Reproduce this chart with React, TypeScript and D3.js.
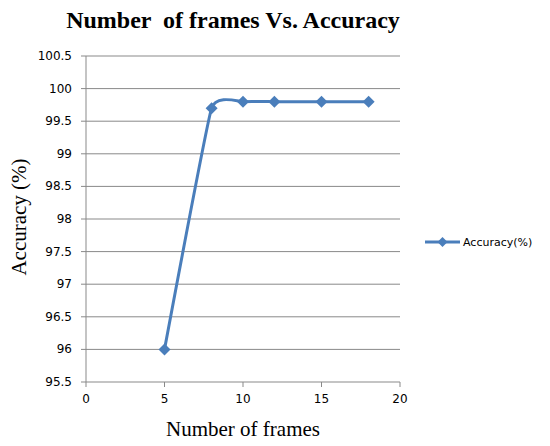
import React from "react";
import * as d3 from "d3";

const framesX = [5, 8, 10, 12, 15, 18];
const accuracyY = [96, 99.7, 99.8, 99.8, 99.8, 99.8];
const xTicks = [0, 5, 10, 15, 20];
const yTicks = [95.5, 96, 96.5, 97, 97.5, 98, 98.5, 99, 99.5, 100, 100.5];
const seriesName = "Accuracy(%)";
const titleText = "Number  of frames Vs. Accuracy";
const xTitle = "Number of frames";
const yTitle = "Accuracy (%)";

export default function App() {
  const W = 550, H = 446;
  const x = d3.scaleLinear().domain([0, 20]).range([86, 400]);
  const y = d3.scaleLinear().domain([95.5, 100.5]).range([382, 56]);
  const pts = framesX.map((v, i) => [x(v), y(accuracyY[i])] as [number, number]);
  const line = d3.line().curve(d3.curveCardinal.tension(0.65))(pts) || "";
  const blue = "#4a7ebb";
  const grid = "#898989";
  const sans = "Tahoma, 'DejaVu Sans', Verdana, sans-serif";
  const serif = "'Liberation Serif', 'Times New Roman', serif";
  const diamond = (cx: number, cy: number, r: number) =>
    `M${cx},${cy - r}L${cx + r},${cy}L${cx},${cy + r}L${cx - r},${cy}Z`;
  return (
    <svg width={W} height={H} style={{ position: "absolute", left: 0, top: 0, background: "#fff" }}>
      <rect width={W} height={H} fill="#fff" />
      <text x={233} y={28} textAnchor="middle" fontFamily={serif} fontWeight="bold" fontSize={24}
        style={{ whiteSpace: "pre" }} fill="#000">{titleText}</text>
      {yTicks.map((t) => (
        <g key={"y" + t}>
          {t !== 95.5 && <line x1={86} x2={400} y1={y(t)} y2={y(t)} stroke={grid} strokeWidth={1} />}
          <line x1={81} x2={86} y1={y(t)} y2={y(t)} stroke={grid} strokeWidth={1} />
          <text x={72} y={y(t) + 4} textAnchor="end" fontFamily={sans} fontSize={12} fill="#000">{t}</text>
        </g>
      ))}
      <line x1={86} x2={86} y1={56} y2={382} stroke={grid} strokeWidth={1} />
      <line x1={86} x2={400} y1={382} y2={382} stroke={grid} strokeWidth={1} />
      {xTicks.map((t) => (
        <g key={"x" + t}>
          <line x1={x(t)} x2={x(t)} y1={382} y2={387} stroke={grid} strokeWidth={1} />
          <text x={x(t)} y={403} textAnchor="middle" fontFamily={sans} fontSize={12} fill="#000">{t}</text>
        </g>
      ))}
      <path d={line} fill="none" stroke={blue} strokeWidth={3} strokeLinejoin="round" />
      {pts.map(([px, py], i) => (
        <path key={"m" + i} d={diamond(px, py, 6)} fill={blue} />
      ))}
      <text x={243} y={436} textAnchor="middle" fontFamily={serif} fontSize={21} fill="#000">{xTitle}</text>
      <text transform={`translate(26,217) rotate(-90)`} textAnchor="middle" fontFamily={serif} fontSize={21} fill="#000">{yTitle}</text>
      <line x1={425} x2={460} y1={242} y2={242} stroke={blue} strokeWidth={3} />
      <path d={diamond(442.5, 242, 5)} fill={blue} />
      <text x={463} y={246} fontFamily={sans} fontSize={11} fill="#000">{seriesName}</text>
    </svg>
  );
}
